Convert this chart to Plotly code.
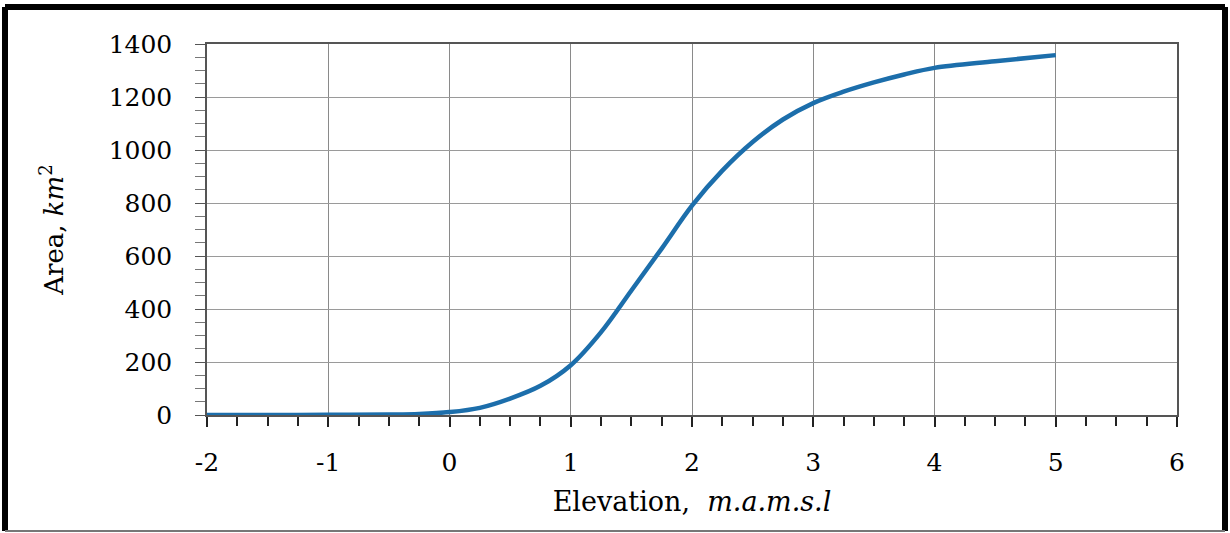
import plotly.graph_objects as go

elevation = [-2, -1.5, -1, -0.5, -0.25, 0, 0.25, 0.5, 0.75, 1, 1.25, 1.5, 1.75,
             2, 2.25, 2.5, 2.75, 3, 3.25, 3.5, 3.75, 4, 4.5, 5]
area = [0, 0, 1, 2, 4, 11, 27, 62, 110, 188, 313, 470, 628,
        790, 922, 1030, 1115, 1177, 1220, 1255, 1285, 1310, 1335, 1358]

x_ticks = [-2, -1, 0, 1, 2, 3, 4, 5, 6]
y_ticks = [0, 200, 400, 600, 800, 1000, 1200, 1400]

FONT = "DejaVu Serif"

fig = go.Figure()
fig.add_trace(go.Scatter(
    x=elevation, y=area, mode="lines",
    line=dict(color="#1c6eab", width=4.5, shape="spline", smoothing=1.0),
    hoverinfo="skip",
))

fig.update_layout(
    width=1230, height=533,
    margin=dict(l=207, r=53, t=44, b=118),
    paper_bgcolor="white", plot_bgcolor="white",
    showlegend=False,
    font=dict(family=FONT, color="black", size=25),
)

fig.update_xaxes(
    range=[-2, 6], tickvals=x_ticks, ticktext=[str(v) for v in x_ticks],
    showgrid=True, gridcolor="#8a8a8a", gridwidth=1,
    showline=True, linecolor="#555555", linewidth=1.5, mirror=True,
    ticks="outside", ticklen=10, tickwidth=1.5, tickcolor="#222222",
    minor=dict(dtick=0.25, tick0=0, ticks="outside", ticklen=9, tickwidth=1.5,
               tickcolor="#222222", showgrid=False),
    ticklabelstandoff=14, zeroline=False,
    tickfont=dict(family=FONT, size=25),
    title=dict(text="Elevation,  <i>m.a.m.s.l</i>", font=dict(family=FONT, size=27),
               standoff=16),
)

fig.update_yaxes(
    range=[0, 1400], tickvals=y_ticks, ticktext=[str(v) for v in y_ticks],
    showgrid=True, gridcolor="#9a9a9a", gridwidth=1,
    showline=True, linecolor="#555555", linewidth=1.5, mirror=True,
    ticks="outside", ticklen=10, tickwidth=1, tickcolor="#555555",
    minor=dict(dtick=50, tick0=0, ticks="outside", ticklen=10, tickwidth=1,
               tickcolor="#777777", showgrid=False),
    ticklabelstandoff=18, zeroline=False,
    tickfont=dict(family=FONT, size=25),
    title=dict(text="Area, <i>km</i><sup>2</sup>", font=dict(family=FONT, size=26),
               standoff=38),
)

# frame around the whole picture
x0, x1 = (5 - 207) / 970, (1225 - 207) / 970
y0, y1 = (415 - 531) / 371, (415 - 7) / 371
for xa, ya, xb, yb, col, w in [
    (x0, y1, x1, y1, "black", 6),
    (x0, y0, x0, y1, "black", 6),
    (x1, y0, x1, y1, "black", 6),
    (x0, y0, x1, y0, "#777777", 2),
]:
    fig.add_shape(type="line", xref="paper", yref="paper",
                  x0=xa, y0=ya, x1=xb, y1=yb, line=dict(color=col, width=w))

fig.write_html("out.html", config={"displayModeBar": False},
               post_script="document.body.style.margin='0';")
